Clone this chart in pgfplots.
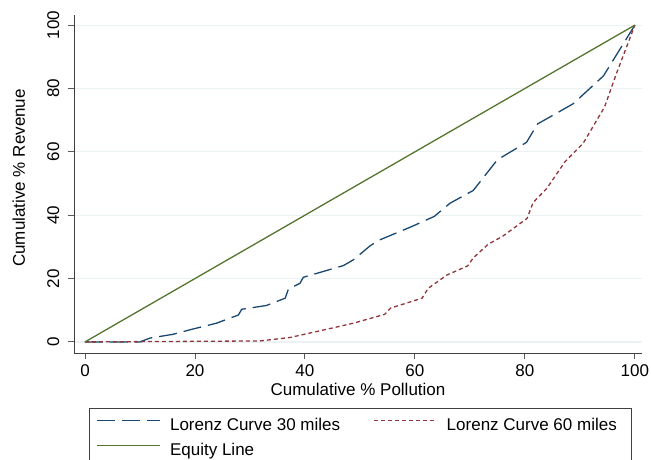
\documentclass[border=0pt]{standalone}
\usepackage{pgfplots}
\pgfplotsset{compat=1.18}
\usepackage{fontspec}
\setmainfont{Liberation Sans}
\definecolor{snavy}{RGB}{26,71,111}
\definecolor{smaroon}{RGB}{144,53,59}
\definecolor{sgreen}{RGB}{85,117,47}
\definecolor{sgrid}{RGB}{234,242,243}
\begin{document}
\begin{tikzpicture}
\useasboundingbox (0,0) rectangle (651bp,460bp);
\begin{axis}[
  at={(74bp,107bp)}, anchor=south west,
  scale only axis, width=568bp, height=338bp,
  xmin=-2, xmax=101.3, ymin=-3.5, ymax=103.2,
  axis x line*=bottom, axis y line*=left,
  axis line style={black!75, line width=0.9bp, -},
  xtick={0,20,40,60,80,100}, ytick={0,20,40,60,80,100},
  tick align=outside, major tick length=6bp,
  tick style={black!65, line width=0.9bp},
  minor tick num=0,
  ymajorgrids, grid style={sgrid, line width=1.2bp},
  font=\fontsize{17bp}{20bp}\selectfont,
  /pgf/number format/assume math mode=true,
  xticklabel style={anchor=base, yshift=-23.5bp+6bp},
  yticklabel style={xshift=-15bp+6bp, rotate=90, anchor=base},
  xlabel={Cumulative \% Pollution},
  ylabel={Cumulative \% Revenue},
  every axis x label/.style={at={(axis description cs:0.5,-0.127)}, anchor=base},
  every axis y label/.style={at={(axis description cs:-0.0863,0.518)}, rotate=90, anchor=base},
  clip=false,
  legend columns=2,
  legend cell align=left,
  legend image code/.code={\draw[#1, line width=1.3bp] (0,6bp) -- (63bp,6bp); \path[draw=none] (0,0) -- (73bp,0);},
  legend style={at={(axis description cs:0.0264,-0.1636)}, anchor=north west,
    draw=black!75, line width=0.9bp, inner xsep=7bp, inner ysep=10bp,
    column sep=0pt, row sep=9bp,
    nodes={inner sep=0pt, text height=12bp, text depth=4bp},
    font=\fontsize{17bp}{20bp}\selectfont},
]
\addplot[snavy, line width=1.3bp, dash pattern=on 18bp off 7bp] coordinates {
(0,0)(10,0)(11.8,1.2)(16,2.4)(19.7,4.1)(23.9,5.9)(27.9,8.5)(28.5,10.3)(33,11.5)(36.4,13.8)(37,16.7)(39.1,18.5)(39.7,20.4)(47,24.1)(48.8,25.9)(51.9,30.4)(53.6,32.2)(59.4,36.4)(63.5,39.6)(66.4,43.8)(70.6,47.8)(75,57.5)(80.3,63)(82.3,68.8)(88.8,75.2)(94.3,84)(100,100)};
\addlegendentry{\makebox[203bp][l]{Lorenz Curve 30 miles}}
\addplot[smaroon, line width=1.3bp, dash pattern=on 4bp off 3bp] coordinates {
(0,0)(31.8,0.3)(37.3,1.4)(42.7,3.5)(48.8,5.9)(54.5,8.7)(55.6,10.7)(61.3,13.8)(62.4,16.9)(65.8,21.1)(69.6,24)(70.6,26.5)(73.3,30.8)(76,33.4)(80.4,39)(81.5,44)(84,48.5)(87.3,56.9)(90.6,62.7)(94.5,74.2)(96.6,84.5)(100,100)};
\addlegendentry{\makebox[178bp][l]{Lorenz Curve 60 miles}}
\addplot[sgreen, line width=1.3bp] coordinates {(0,0)(100,100)};
\addlegendentry{Equity Line}
\end{axis}
\end{tikzpicture}
\end{document}
